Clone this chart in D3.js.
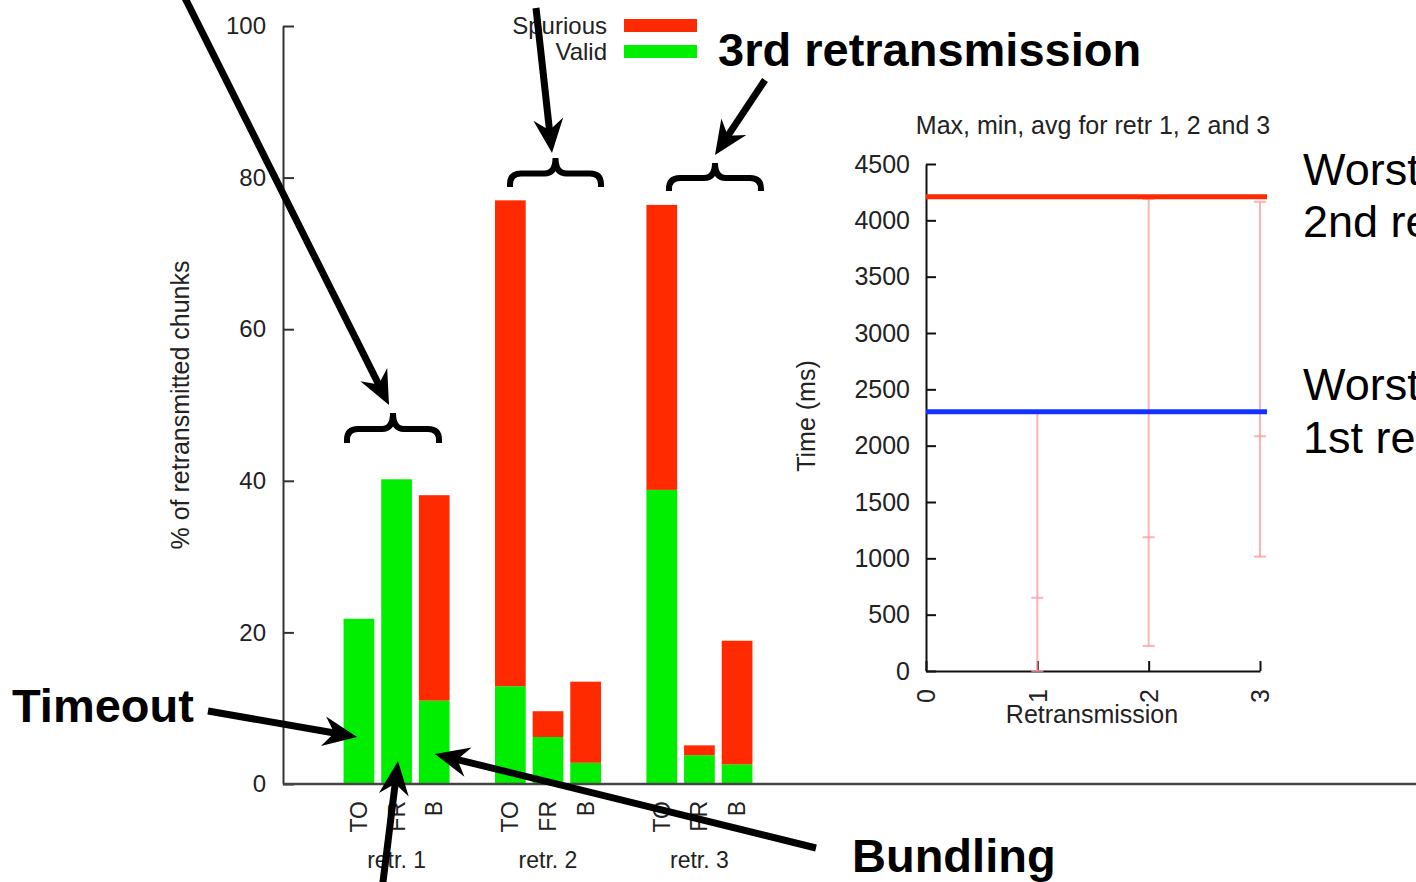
<!DOCTYPE html>
<html>
<head>
<meta charset="utf-8">
<script src="https://cdn.jsdelivr.net/npm/d3@7"></script>
<style>
  body { margin: 0; background: #fff; }
  text { font-family: "Liberation Sans", Arial, Helvetica, sans-serif; }
</style>
</head>
<body>
<div id="container"></div>
<script>
// left chart: % of retransmitted chunks, stacked valid / spurious
const groups = ["retr. 1", "retr. 2", "retr. 3"];
const kinds = ["TO", "FR", "B"];
const valid = [[21.8, 40.2, 11.0], [12.9, 6.2, 2.8], [38.8, 3.8, 2.6]];
const spurious = [[0, 0, 27.1], [64.1, 3.4, 10.7], [37.6, 1.3, 16.3]];
const pctTicks = [0, 20, 40, 60, 80, 100];
const seriesNames = ["Spurious", "Valid"];

// inset: max, min, avg time per retransmission
const retrNo = [1, 2, 3];
const timeMin = [0, 222, 1015];
const timeAvg = [650, 1187, 2084];
const timeMax = [2300, 4190, 4165];
const timeTicks = [0, 500, 1000, 1500, 2000, 2500, 3000, 3500, 4000, 4500];
const retrTicks = [0, 1, 2, 3];
const worstCase = [4210, 2300];   // worst case 2nd retr, 1st retr

const RED = "#ff2a00";
const GREEN = "#00ef00";
const BLUE = "#1233ff";

const width = 1416;
const height = 882;

const svg = d3.select("#container").append("svg")
  .attr("width", width)
  .attr("height", height)
  .attr("id", "retr-chart");

// ---------- stacked bars
const rows = [];
groups.forEach((g, i) => kinds.forEach((k, j) => {
  rows.push({ group: g, kind: k, valid: valid[i][j], spurious: spurious[i][j] });
}));

const pctScale = d3.scaleLinear().domain([0, 100]).range([784, 26]);
const groupScale = d3.scaleBand()
  .domain(groups)
  .range([283, 813])
  .paddingInner(0.3)
  .paddingOuter(0.4);
const kindScale = d3.scaleBand()
  .domain(kinds)
  .range([0, groupScale.bandwidth()])
  .paddingInner(0.184);

const barX = (d) => groupScale(d.group) + kindScale(d.kind);

const stacked = d3.stack().keys(["valid", "spurious"])(rows);
const left = svg.append("g");

left.selectAll("g.layer")
  .data(stacked)
  .enter()
  .append("g")
  .attr("class", "layer")
  .attr("fill", (s) => s.key == "valid" ? GREEN : RED)
  .selectAll("rect")
  .data((s) => s.filter((d) => d[1] > d[0]))
  .enter()
  .append("rect")
  .attr("x", (d) => barX(d.data))
  .attr("y", (d) => pctScale(d[1]))
  .attr("width", kindScale.bandwidth())
  .attr("height", (d) => pctScale(d[0]) - pctScale(d[1]));

left.append("g")
  .attr("transform", "translate(283,0)")
  .attr("color", "#333")
  .call(d3.axisLeft(pctScale)
    .tickValues(pctTicks)
    .tickSizeInner(-11)
    .tickSizeOuter(0)
    .tickPadding(17))
  .call((g) => g.selectAll("path,line").attr("stroke-width", 2))
  .selectAll("text")
  .attr("font-size", 24)
  .attr("fill", "#222")
  .attr("font-family", "Liberation Sans, Arial, sans-serif");

// bottom line runs across the whole picture
left.append("line")
  .attr("x1", 283)
  .attr("x2", width)
  .attr("y1", pctScale(0))
  .attr("y2", pctScale(0))
  .attr("stroke", "#444")
  .attr("stroke-width", 2.5);

left.selectAll("text.kind")
  .data(rows)
  .enter()
  .append("text")
  .attr("class", "kind")
  .attr("transform", (d) => `translate(${barX(d) + kindScale.bandwidth() / 2},801) rotate(-90)`)
  .attr("text-anchor", "end")
  .attr("dy", "0.35em")
  .attr("font-size", 23)
  .attr("fill", "#222")
  .text((d) => d.kind);

left.selectAll("text.group")
  .data(groups)
  .enter()
  .append("text")
  .attr("class", "group")
  .attr("x", (g) => groupScale(g) + kindScale("FR") + kindScale.bandwidth() / 2)
  .attr("y", 868)
  .attr("text-anchor", "middle")
  .attr("font-size", 23)
  .attr("fill", "#222")
  .text((g) => g);

left.append("text")
  .attr("transform", "translate(189,405) rotate(-90)")
  .attr("text-anchor", "middle")
  .attr("font-size", 25)
  .attr("fill", "#222")
  .text("% of retransmitted chunks");

// legend
const legend = left.selectAll("g.legend")
  .data(seriesNames)
  .enter()
  .append("g")
  .attr("class", "legend")
  .attr("transform", (d, i) => `translate(0,${i * 26})`);

legend.append("text")
  .attr("x", 607)
  .attr("y", 34)
  .attr("text-anchor", "end")
  .attr("font-size", 24)
  .attr("fill", "#222")
  .text((d) => d);

legend.append("rect")
  .attr("x", 624)
  .attr("y", 19)
  .attr("width", 73)
  .attr("height", 13)
  .attr("fill", (d) => d == "Valid" ? GREEN : RED);

// ---------- inset with error bars
const inset = svg.append("g");
const retrX = d3.scaleLinear().domain([0, 3]).range([926, 1260]);
const timeY = d3.scaleLinear().domain([0, 4500]).range([671, 164]);

inset.append("g")
  .attr("transform", "translate(926,0)")
  .attr("color", "#111")
  .call(d3.axisLeft(timeY)
    .tickValues(timeTicks)
    .tickFormat(d3.format("d"))
    .tickSizeInner(-10)
    .tickSizeOuter(0)
    .tickPadding(16))
  .call((g) => g.selectAll("path,line").attr("stroke-width", 2))
  .selectAll("text")
  .attr("font-size", 25)
  .attr("fill", "#222")
  .attr("font-family", "Liberation Sans, Arial, sans-serif");

inset.append("g")
  .attr("transform", "translate(0,671)")
  .attr("color", "#111")
  .call(d3.axisBottom(retrX)
    .tickValues(retrTicks)
    .tickFormat(d3.format("d"))
    .tickSizeInner(-10)
    .tickSizeOuter(0))
  .call((g) => g.selectAll("path,line").attr("stroke-width", 2))
  .selectAll("text")
  .attr("transform", "rotate(-90)")
  .attr("text-anchor", "end")
  .attr("x", -18)
  .attr("y", 0)
  .attr("dy", "0.35em")
  .attr("font-size", 25)
  .attr("fill", "#222")
  .attr("font-family", "Liberation Sans, Arial, sans-serif");

const errs = retrNo.map((r, i) => ({ r: r, min: timeMin[i], avg: timeAvg[i], max: timeMax[i] }));
const errG = inset.append("g")
  .attr("stroke", "#ff9898")
  .attr("stroke-opacity", 0.75)
  .attr("stroke-width", 2);

errG.selectAll("line.range")
  .data(errs)
  .enter()
  .append("line")
  .attr("x1", (d) => retrX(d.r))
  .attr("x2", (d) => retrX(d.r))
  .attr("y1", (d) => timeY(d.min))
  .attr("y2", (d) => timeY(d.max));

["min", "avg", "max"].forEach((key) => {
  errG.selectAll(`line.${key}`)
    .data(errs)
    .enter()
    .append("line")
    .attr("x1", (d) => retrX(d.r) - 6)
    .attr("x2", (d) => retrX(d.r) + 6)
    .attr("y1", (d) => timeY(d[key]))
    .attr("y2", (d) => timeY(d[key]));
});

inset.selectAll("line.worst")
  .data(worstCase)
  .enter()
  .append("line")
  .attr("x1", retrX(0))
  .attr("x2", retrX(3) + 7)
  .attr("y1", (d) => timeY(d))
  .attr("y2", (d) => timeY(d))
  .attr("stroke", (d, i) => i == 0 ? RED : BLUE)
  .attr("stroke-width", 5);

inset.append("text")
  .attr("x", 1093)
  .attr("y", 134)
  .attr("text-anchor", "middle")
  .attr("font-size", 25)
  .attr("fill", "#222")
  .text("Max, min, avg for retr 1, 2 and 3");

inset.append("text")
  .attr("x", 1092)
  .attr("y", 723)
  .attr("text-anchor", "middle")
  .attr("font-size", 25)
  .attr("fill", "#222")
  .text("Retransmission");

inset.append("text")
  .attr("transform", "translate(815,416) rotate(-90)")
  .attr("text-anchor", "middle")
  .attr("font-size", 25)
  .attr("fill", "#222")
  .text("Time (ms)");

// ---------- annotations (slide overlay)
const notes = svg.append("g");

const worstLabels = [
  { y: 185, text: "Worst case" }, { y: 237, text: "2nd retransmission" },
  { y: 400, text: "Worst case" }, { y: 453, text: "1st retransmission" }
];
notes.selectAll("text.worst")
  .data(worstLabels)
  .enter()
  .append("text")
  .attr("x", 1303)
  .attr("y", (d) => d.y)
  .attr("font-size", 45)
  .attr("fill", "#000")
  .text((d) => d.text);

const boldLabels = [
  { x: 718, y: 66, text: "3rd retransmission" },
  { x: 12, y: 722, text: "Timeout" },
  { x: 852, y: 872, text: "Bundling" }
];
notes.selectAll("text.bold")
  .data(boldLabels)
  .enter()
  .append("text")
  .attr("x", (d) => d.x)
  .attr("y", (d) => d.y)
  .attr("font-size", 47)
  .attr("font-weight", "bold")
  .attr("fill", "#000")
  .text((d) => d.text);

const braces = [
  { x1: 347, x2: 439, top: 413, bot: 443 },
  { x1: 510, x2: 601, top: 158, bot: 187 },
  { x1: 669, x2: 761, top: 163, bot: 191 }
];
const bracePath = (b) => {
  const r = 11, xc = (b.x1 + b.x2) / 2, yb = (b.top + b.bot) / 2 + 1;
  return `M${b.x1},${b.bot} L${b.x1},${yb + r} Q${b.x1},${yb} ${b.x1 + r},${yb} ` +
    `L${xc - r},${yb} Q${xc},${yb} ${xc},${b.top} Q${xc},${yb} ${xc + r},${yb} ` +
    `L${b.x2 - r},${yb} Q${b.x2},${yb} ${b.x2},${yb + r} L${b.x2},${b.bot}`;
};
notes.selectAll("path.brace")
  .data(braces)
  .enter()
  .append("path")
  .attr("d", bracePath)
  .attr("fill", "none")
  .attr("stroke", "#000")
  .attr("stroke-width", 6);

// arrows: tail (x1,y1) -> tip (x2,y2)
const arrows = [
  { x1: 184, y1: -4, x2: 389, y2: 405 },
  { x1: 536, y1: 8, x2: 552, y2: 153 },
  { x1: 765, y1: 80, x2: 715, y2: 155 },
  { x1: 208, y1: 711, x2: 357, y2: 737 },
  { x1: 382, y1: 890, x2: 398, y2: 761 },
  { x1: 816, y1: 848, x2: 435, y2: 754 }
];
const arrowG = notes.selectAll("g.arrow")
  .data(arrows)
  .enter()
  .append("g")
  .attr("class", "arrow");

arrowG.append("line")
  .attr("x1", (d) => d.x1)
  .attr("y1", (d) => d.y1)
  .attr("x2", (d) => {
    const len = Math.hypot(d.x2 - d.x1, d.y2 - d.y1);
    return d.x2 - (d.x2 - d.x1) / len * 20;
  })
  .attr("y2", (d) => {
    const len = Math.hypot(d.x2 - d.x1, d.y2 - d.y1);
    return d.y2 - (d.y2 - d.y1) / len * 20;
  })
  .attr("stroke", "#000")
  .attr("stroke-width", 7);

arrowG.append("path")
  .attr("d", "M0,0 L-34,-15 L-23,0 L-34,15 Z")
  .attr("fill", "#000")
  .attr("transform", (d) => {
    const ang = Math.atan2(d.y2 - d.y1, d.x2 - d.x1) * 180 / Math.PI;
    return `translate(${d.x2},${d.y2}) rotate(${ang})`;
  });
</script>
</body>
</html>
